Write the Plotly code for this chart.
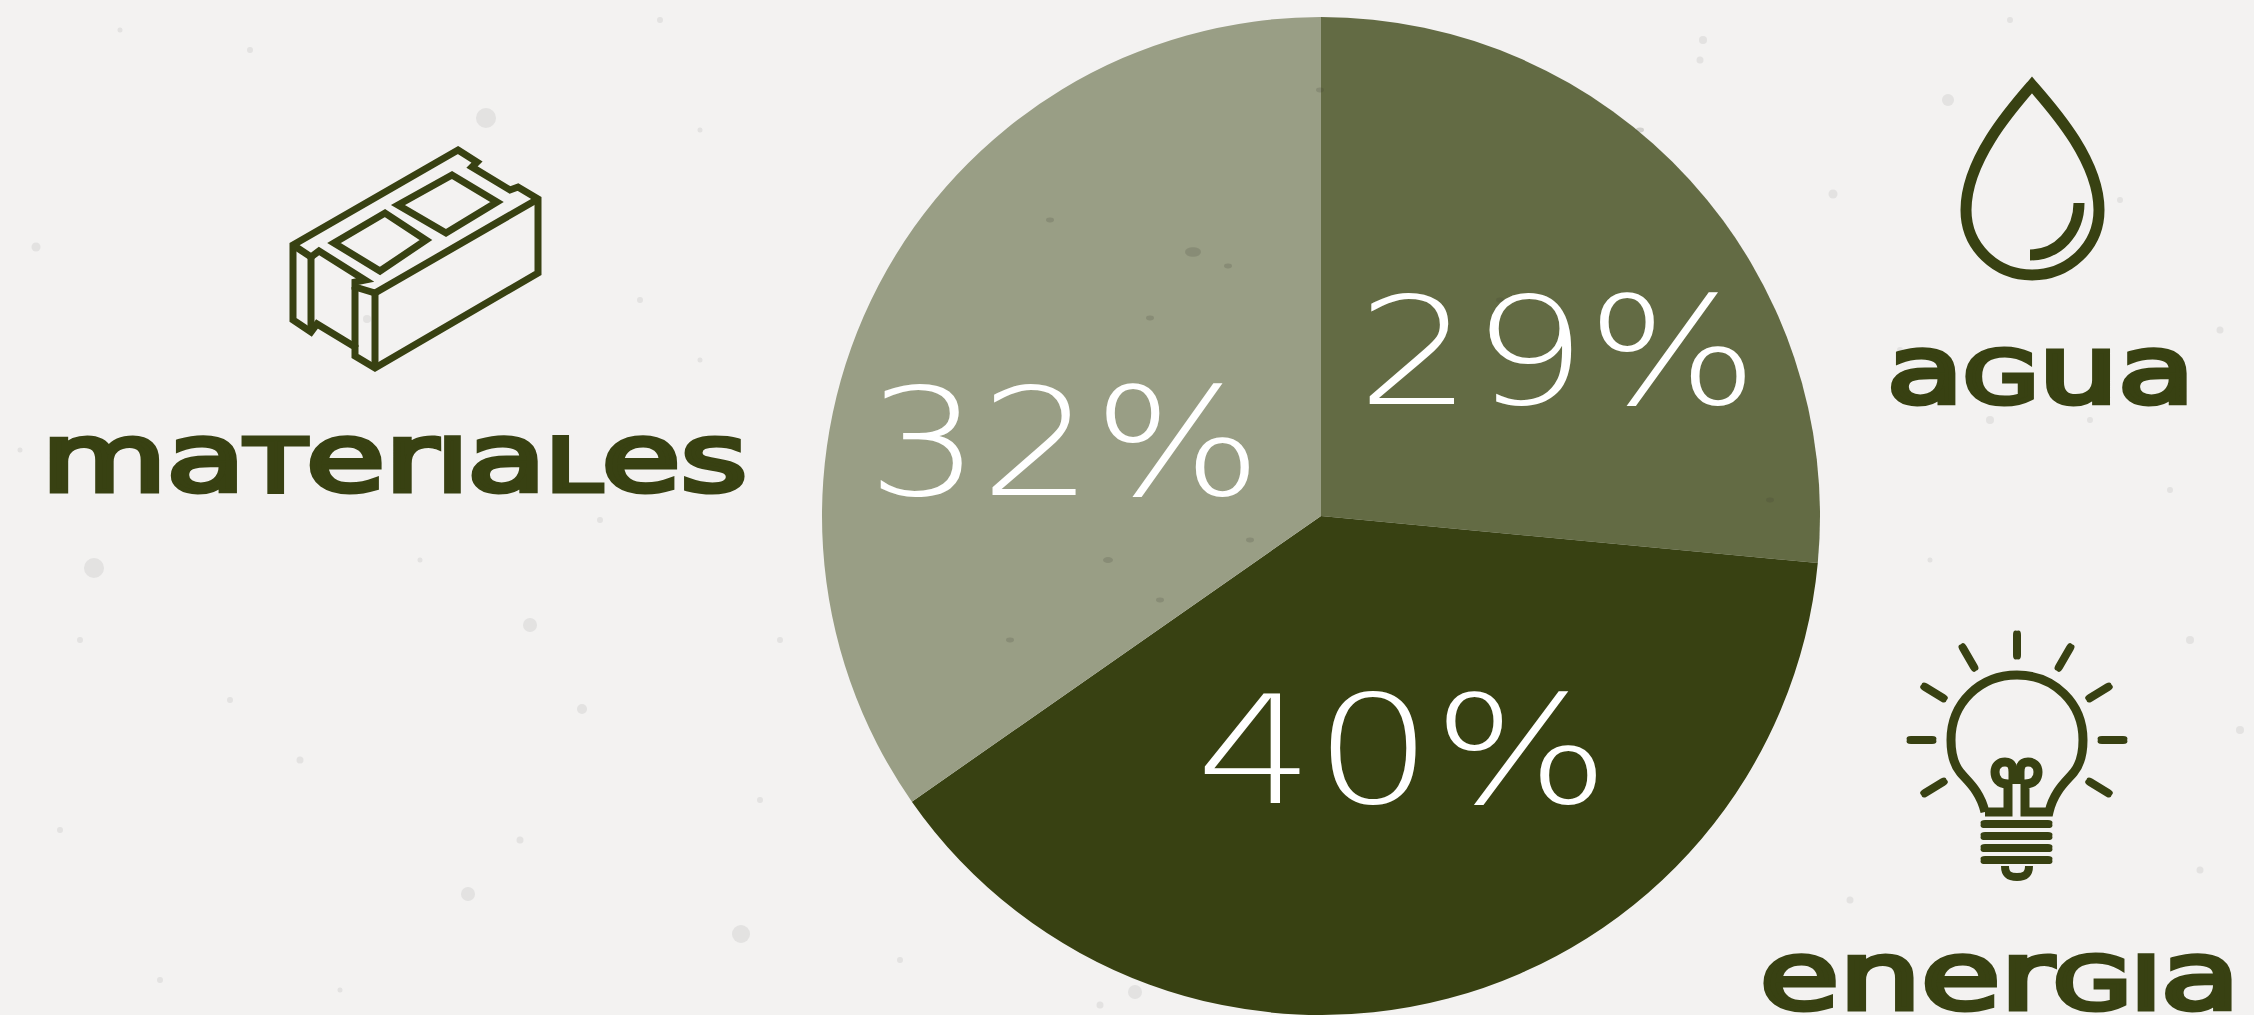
import json
import plotly.graph_objects as go

# ---- data ----
slice_names = ["agua", "energia", "materiales"]
slice_shares = [26.5, 38.8, 34.7]          # angular shares as drawn in the picture
slice_labels = ["29%", "40%", "32%"]
slice_colors = ["#636b44", "#384112", "#999e85"]

W, H = 2254, 1015
INK = "#384112"
BG = "#f3f2f1"

# hand-read stains on the paper background: x, y, size
stain_x = [486, 94, 582, 530, 741, 468, 1703, 1833, 1948, 1135, 36, 367, 1700, 2190, 2010, 1850, 2240, 120, 250, 660, 700,
           60, 300, 900, 1990, 2170, 1930, 2120, 2220, 80, 420, 600, 760, 20, 160, 340, 520, 780, 1100, 1900, 2090, 2200, 700, 230, 640]
stain_y = [118, 568, 709, 625, 934, 894, 40, 194, 100, 992, 247, 319, 60, 640, 20, 900, 730, 30, 50, 20, 130, 830, 760, 960,
           420, 490, 560, 200, 330, 640, 560, 520, 800, 450, 980, 990, 840, 640, 1005, 350, 420, 870, 360, 700, 300]
stain_s = [20, 20, 10, 14, 18, 14, 8, 9, 12, 14, 9, 8, 7, 8, 6, 7, 8, 5, 6, 6, 5, 6, 7, 6, 8, 6, 5, 6, 7, 6, 5, 6, 6, 5, 6, 5, 7, 6, 7, 6, 6, 7, 5, 6, 6]

# category captions: (markup, centre x, centre y, width on the page)
SC = "font-variant:small-caps;font-size:104px"
captions = {
    "materiales": (f'ma<span style="{SC}">t</span>er<span style="{SC}">i</span>a<span style="{SC}">l</span>es', 394, 455, 706),
    "agua": (f'a<span style="{SC}">g</span>ua', 2040, 367, 308),
    "energia": (f'ener<span style="{SC}">g</span><span style="{SC}">i</span>a', 2000, 973, 480),
}
# percentage labels: (centre x, centre y, width on the page)
percent_boxes = {"29%": (1557, 352, 401), "40%": (1402, 751, 414), "32%": (1064, 443, 395)}

fig = go.Figure()

fig.add_trace(go.Scatter(x=stain_x, y=stain_y, mode="markers", hoverinfo="skip", showlegend=False,
                         marker=dict(size=stain_s, color="rgba(150,150,150,0.24)", line=dict(width=0))))

fig.add_trace(go.Pie(values=slice_shares, labels=slice_names, sort=False, direction="clockwise", rotation=0,
                     marker=dict(colors=slice_colors, line=dict(width=0)), textinfo="none", hoverinfo="label",
                     showlegend=False,
                     domain=dict(x=[822 / W, 1820 / W], y=[0, 998 / H])))


def cap(x1, y1, x2, y2, w):
    """Rounded bar between two points, as a filled path."""
    dx, dy = x2 - x1, y2 - y1
    n = (dx * dx + dy * dy) ** 0.5
    ux, uy = dx / n, dy / n
    px, py = -uy * w / 2, ux * w / 2
    ex, ey = ux * w * 0.7, uy * w * 0.7
    return (f"M{x1+px},{y1+py} L{x2+px},{y2+py} Q{x2+px+ex},{y2+py+ey} {x2+ex*0.75},{y2+ey*0.75} "
            f"Q{x2-px+ex},{y2-py+ey} {x2-px},{y2-py} L{x1-px},{y1-py} Q{x1-px-ex},{y1-py-ey} {x1-ex*0.75},{y1-ey*0.75} "
            f"Q{x1+px-ex},{y1+py-ey} {x1+px},{y1+py} Z")


stroke_paths = [
    # brick
    ("M458,150 L477,162 L472,167 L510,190 L518,187 L538,199 L538,273 L375,368 L355,356 L355,347 L317,324 L311,332 "
     "L293,320 L293,245 Z", 7),
    ("M293,245 L311,257 L319,251 L365,280 L355,282 L355,287 L375,293 L538,199", 7),
    ("M311,257 L311,332", 7), ("M355,287 L355,347", 7), ("M375,293 L375,368", 7),
    ("M334,243 L385,213 L426,240 L380,271 Z", 7),
    ("M398,205 L452,175 L497,202 L446,233 Z", 7),
    # drop
    ("M2032,85 C2012,108 1966,160 1966,210 C1966,247 1996,275 2032,275 C2068,275 2099,247 2099,210 "
     "C2099,160 2052,108 2032,85 Z", 11),
    ("M2079,203 C2079,232 2058,255 2030,255", 11),
    # bulb
    ("M1985,812 C1980,790 1966,780 1960,772 C1952,762 1951,750 1951,740 C1951,703 1980,675 2017,675 "
     "C2054,675 2083,703 2083,740 C2083,750 2082,762 2074,772 C2068,780 2054,790 2049,812 L2025,812 L2025,784 "
     "C2035,784 2038,778 2038,772 C2038,765 2033,762 2028,762 C2022,762 2020,766 2020,772 L2020,784 "
     "M2013,784 L2013,772 C2013,766 2011,762 2005,762 C2000,762 1995,765 1995,772 C1995,778 1998,784 2008,784 "
     "L2008,812 L1985,812", 9),
    ("M2005,866 C2005,875 2010,877 2017,877 C2024,877 2029,875 2029,866", 8),
]
shapes = [dict(type="path", path=p, xref="x", yref="y", line=dict(color=INK, width=w), fillcolor="rgba(0,0,0,0)")
          for p, w in stroke_paths]

ray_caps = [(2017, 635, 2017, 655), (1963, 648, 1974, 667), (2070, 648, 2059, 667), (1925, 687, 1943, 698),
            (2108, 687, 2090, 698), (1911, 740, 1932, 740), (2123, 740, 2102, 740), (1925, 793, 1943, 782),
            (2108, 793, 2090, 782)]
bar_caps = [(1985, 824, 2048, 824), (1985, 836, 2048, 836), (1985, 848, 2048, 848), (1985, 860, 2048, 860)]
shapes += [dict(type="path", path=cap(*c, 8), xref="x", yref="y", line=dict(width=0), fillcolor=INK)
           for c in ray_caps + bar_caps]

# hand-read flecks over the pie
fleck_x = [1193, 1228, 1150, 1108, 1250, 1050, 1640, 1500, 1770, 1010, 1160, 1320]
fleck_y = [252, 266, 318, 560, 540, 220, 130, 300, 500, 640, 600, 90]
fleck_s = [8, 4, 4, 5, 4, 4, 4, 4, 4, 4, 4, 4]
shapes += [dict(type="circle", xref="x", yref="y", x0=x - s, x1=x + s, y0=y - s * 0.6, y1=y + s * 0.6,
                line=dict(width=0), fillcolor="rgba(60,60,50,0.18)", layer="above")
           for x, y, s in zip(fleck_x, fleck_y, fleck_s)]

annotations = []
for lab, (markup, x, y, _) in captions.items():
    annotations.append(dict(x=x, y=y, xref="x", yref="y", xanchor="center", yanchor="middle", showarrow=False,
                            text=markup, font=dict(family="DejaVu Sans", size=94, color=INK)))
for lab in slice_labels:
    x, y, _ = percent_boxes[lab]
    annotations.append(dict(x=x, y=y, xref="x", yref="y", xanchor="center", yanchor="middle", showarrow=False,
                            text=lab,
                            font=dict(family="DejaVu Sans ExtraLight, DejaVu Sans Light, DejaVu Sans", size=150,
                                      color="white", weight=200)))

fig.update_layout(width=W, height=H, margin=dict(l=0, r=0, t=0, b=0), paper_bgcolor=BG, plot_bgcolor=BG,
                  xaxis=dict(range=[0, W], visible=False, fixedrange=True),
                  yaxis=dict(range=[H, 0], visible=False, fixedrange=True),
                  shapes=shapes, annotations=annotations, showlegend=False)

widths = {k: v[3] for k, v in captions.items()}
widths.update({k: v[2] for k, v in percent_boxes.items()})
post = f"""
document.body.style.margin='0';
var widths={json.dumps(widths)}, caps={json.dumps(list(captions))};
document.querySelectorAll('.annotation-text').forEach(function(t){{
  var k=t.textContent;
  if(widths[k]){{t.setAttribute('textLength',widths[k]);t.setAttribute('lengthAdjust','spacingAndGlyphs');}}
  if(caps.indexOf(k)>=0){{t.style.stroke='{INK}';t.style.strokeWidth='5px';}}
}});
"""
fig.write_html("out.html", config=dict(displayModeBar=False), post_script=post)
